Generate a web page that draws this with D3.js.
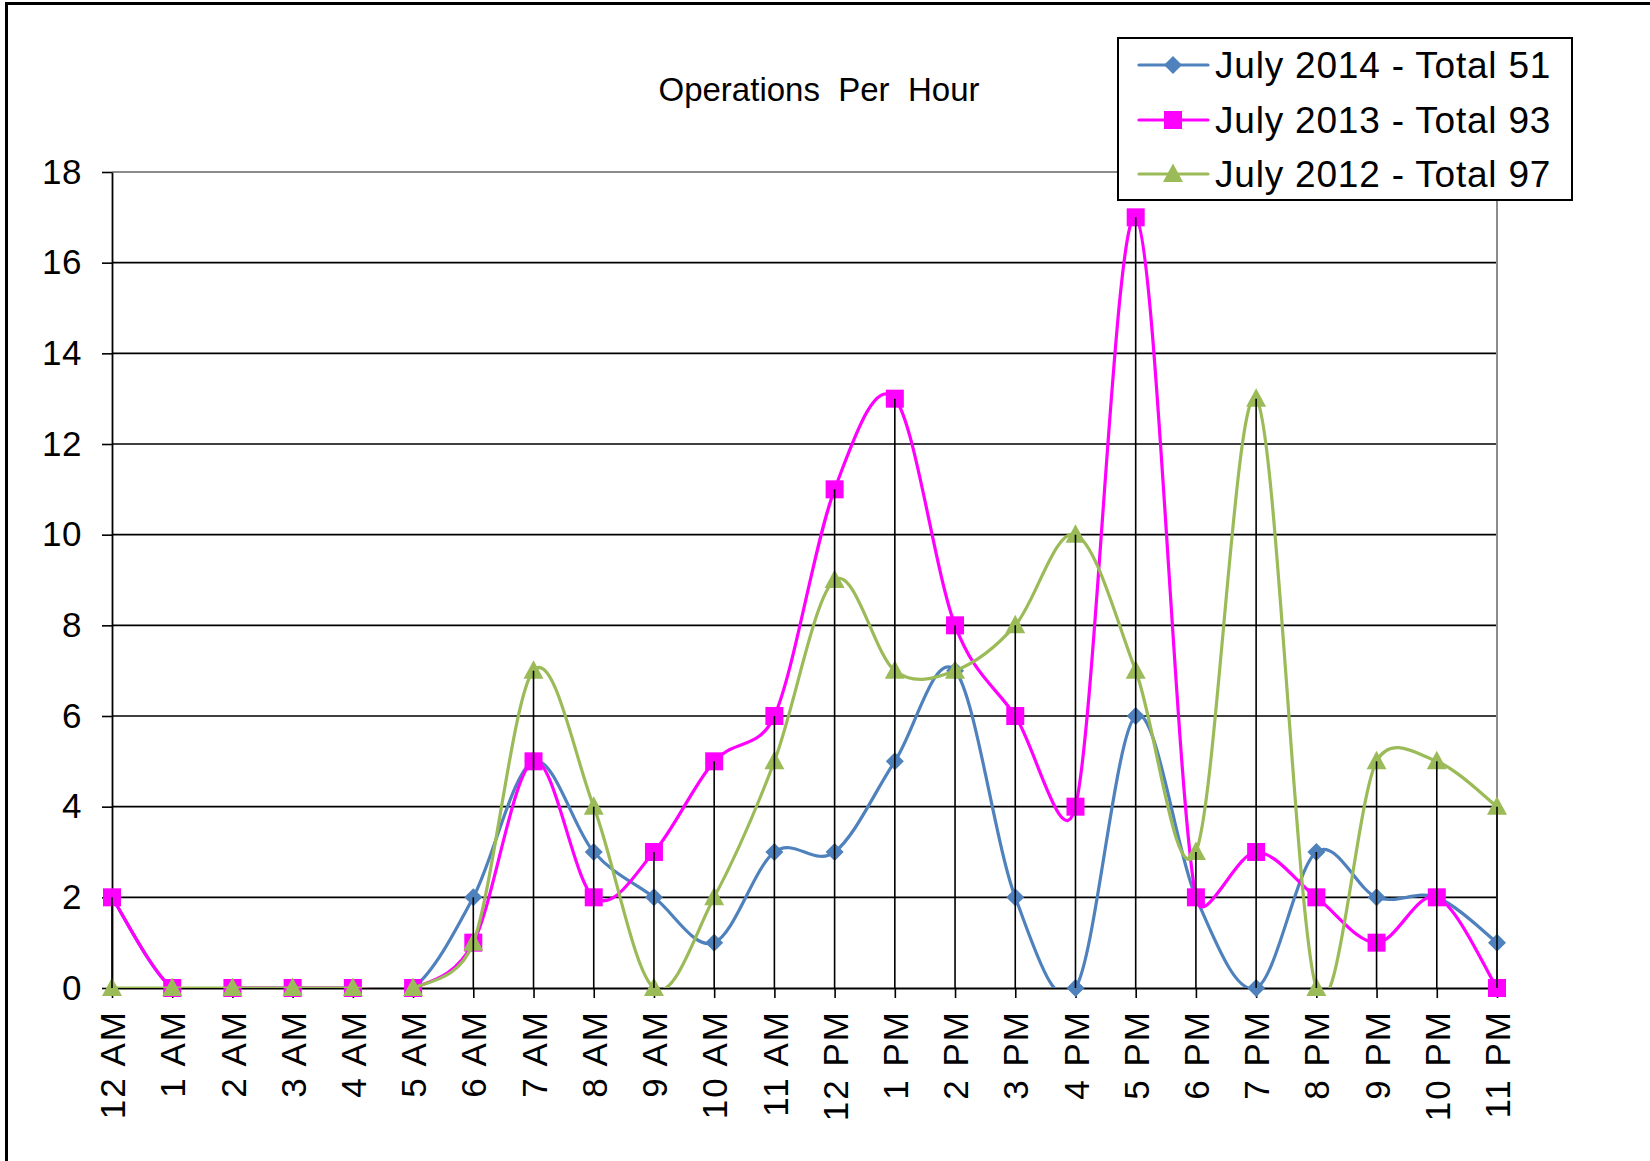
<!DOCTYPE html>
<html>
<head>
<meta charset="utf-8">
<script src="https://cdn.jsdelivr.net/npm/d3@7"></script>
<style>
  html, body { margin: 0; padding: 0; background: #fff; }
  svg { display: block; font-family: "Liberation Sans", Arial, sans-serif; }
</style>
</head>
<body>
<svg id="chart" width="1650" height="1161"></svg>
<script>
const categories = ["12 AM","1 AM","2 AM","3 AM","4 AM","5 AM","6 AM","7 AM","8 AM","9 AM","10 AM","11 AM",
                    "12 PM","1 PM","2 PM","3 PM","4 PM","5 PM","6 PM","7 PM","8 PM","9 PM","10 PM","11 PM"];
const july2014 = [2,0,0,0,0,0,2,5,3,2,1,3,3,5,7,2,0,6,2,0,3,2,2,1];
const july2013 = [2,0,0,0,0,0,1,5,2,3,5,6,11,13,8,6,4,17,2,3,2,1,2,0];
const july2012 = [0,0,0,0,0,0,1,7,4,0,2,5,9,7,7,8,10,7,3,13,0,5,5,4];
const seriesNames = ["July 2014 - Total 51","July 2013 - Total 93","July 2012 - Total 97"];
const seriesColors = ["#4F81BD","#FF00FF","#9BBB59"];
const seriesMarkers = ["diamond","square","triangle"];
const yTicks = [0,2,4,6,8,10,12,14,16,18];
const titleText = "Operations  Per  Hour";

const series = [july2014, july2013, july2012].map((v,i) => ({
  name: seriesNames[i], color: seriesColors[i], marker: seriesMarkers[i], values: v
}));

const svg = d3.select("#chart");
const L = 112, R = 1497, T = 172, B = 988;
const x = d3.scalePoint().domain(categories).range([L, R]);
const y = d3.scaleLinear().domain([0, 18]).range([B, T]);

// outer chart border
svg.append("rect").attr("x", 6.5).attr("y", 3.5).attr("width", 1700).attr("height", 1200)
  .attr("fill", "none").attr("stroke", "#000").attr("stroke-width", 3);

// title
svg.append("text").attr("x", 819).attr("y", 101).attr("text-anchor", "middle")
  .style("white-space", "pre").attr("font-size", 33).attr("fill", "#000").text(titleText);

// gridlines
svg.append("g").selectAll("line").data(yTicks.filter(d => d > 0 && d < 18)).join("line")
  .attr("x1", L).attr("x2", R).attr("y1", d => y(d)).attr("y2", d => y(d))
  .attr("stroke", "#000").attr("stroke-width", 1.6);
// plot border top/right (gray)
svg.append("path").attr("d", `M${L},${y(18)}H${R}V${B}`).attr("fill", "none")
  .attr("stroke", "#8c8c8c").attr("stroke-width", 2);

// y axis
const yAxis = svg.append("g").attr("transform", `translate(${L},0)`)
  .call(d3.axisLeft(y).tickValues(yTicks).tickSize(10).tickPadding(20).tickSizeOuter(0));
yAxis.select(".domain").attr("stroke", "#000").attr("stroke-width", 1.8);
yAxis.selectAll(".tick line").attr("stroke", "#000").attr("stroke-width", 1.6);
yAxis.selectAll("text").attr("font-size", 35).attr("letter-spacing", 0.5)
  .attr("font-family", "Liberation Sans, Arial, sans-serif").attr("fill", "#000");

// x axis
const xAxis = svg.append("g").attr("transform", `translate(0,${B})`)
  .call(d3.axisBottom(x).tickSize(10).tickSizeOuter(0));
xAxis.select(".domain").attr("stroke", "#000").attr("stroke-width", 1.8);
xAxis.selectAll(".tick line").attr("stroke", "#000").attr("stroke-width", 1.6);
xAxis.selectAll("text")
  .attr("font-size", 35).attr("letter-spacing", 2).attr("font-family", "Liberation Sans, Arial, sans-serif").attr("fill", "#000")
  .attr("transform", "rotate(-90)").attr("x", -22).attr("y", 0).attr("dy", "0.36em")
  .attr("text-anchor", "end");

// clip
svg.append("clipPath").attr("id", "plotclip").append("rect")
  .attr("x", L - 20).attr("y", T - 40).attr("width", R - L + 40).attr("height", B - T + 40);

// Excel-style smoothed line (Bezier, tension 1/6, control arm limited to half the segment)
function smoothPath(values) {
  const pts = values.map((v, i) => [x(categories[i]), y(v)]);
  const dist = (a, b) => Math.hypot(b[0] - a[0], b[1] - a[1]);
  const p = d3.path();
  p.moveTo(pts[0][0], pts[0][1]);
  for (let i = 0; i < pts.length - 1; i++) {
    const P0 = pts[i - 1] || pts[i], P1 = pts[i], P2 = pts[i + 1], P3 = pts[i + 2] || pts[i + 1];
    const d02 = dist(P0, P2), d12 = dist(P1, P2), d13 = dist(P1, P3);
    const f1 = (d02 === 0 || d02 / 6 < d12 / 2) ? 1 / 6 : d12 / (2 * d02);
    const f2 = (d13 === 0 || d13 / 6 < d12 / 2) ? 1 / 6 : d12 / (2 * d13);
    const c1 = [P1[0] + f1 * (P2[0] - P0[0]), P1[1] + f1 * (P2[1] - P0[1])];
    const c2 = [P2[0] - f2 * (P3[0] - P1[0]), P2[1] - f2 * (P3[1] - P1[1])];
    p.bezierCurveTo(c1[0], c1[1], c2[0], c2[1], P2[0], P2[1]);
  }
  return p.toString();
}

function markerPath(type, s) {
  if (type === "diamond") return `M0,${-s}L${s},0L0,${s}L${-s},0Z`;
  if (type === "square") return `M${-s},${-s}H${s}V${s}H${-s}Z`;
  return `M0,${-s*1.05}L${s},${s*0.8}L${-s},${s*0.8}Z`;
}
const markerSize = { diamond: 9, square: 9, triangle: 10 };

series.forEach(s => {
  const g = svg.append("g");
  g.append("path").attr("d", smoothPath(s.values)).attr("fill", "none")
    .attr("stroke", s.color).attr("stroke-width", 3.2).attr("clip-path", "url(#plotclip)");
  g.selectAll("path.m").data(s.values).join("path").attr("class", "m")
    .attr("transform", (d, i) => `translate(${x(categories[i])},${y(d)})`)
    .attr("d", markerPath(s.marker, markerSize[s.marker])).attr("fill", s.color);
});

// drop lines (from highest point to axis)
const maxVals = categories.map((c, i) => d3.max(series, s => s.values[i]));
svg.append("g").selectAll("line").data(maxVals).join("line")
  .attr("x1", (d, i) => x(categories[i])).attr("x2", (d, i) => x(categories[i]))
  .attr("y1", d => y(d)).attr("y2", B)
  .attr("stroke", "#000").attr("stroke-width", 1.6);

// legend
const lg = svg.append("g");
lg.append("rect").attr("x", 1118).attr("y", 38).attr("width", 454).attr("height", 162)
  .attr("fill", "#fff").attr("stroke", "#000").attr("stroke-width", 2);
const rowY = [65, 120, 174];
series.forEach((s, i) => {
  lg.append("line").attr("x1", 1139).attr("x2", 1208).attr("y1", rowY[i]).attr("y2", rowY[i])
    .attr("stroke", s.color).attr("stroke-width", 3.2).attr("stroke-linecap", "round");
  lg.append("path").attr("transform", `translate(1173,${rowY[i]})`)
    .attr("d", markerPath(s.marker, markerSize[s.marker])).attr("fill", s.color);
  lg.append("text").attr("x", 1215).attr("y", rowY[i]).attr("dy", "0.36em")
    .attr("font-size", 37).attr("letter-spacing", 0.8).attr("fill", "#000").text(s.name);
});
</script>
</body>
</html>
